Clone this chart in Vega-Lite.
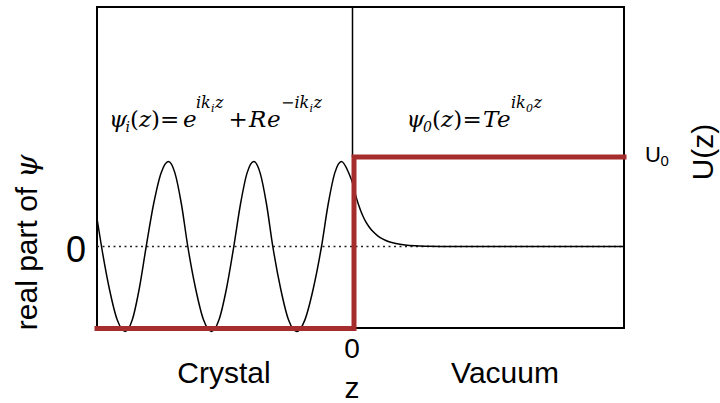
{
  "$schema": "https://vega.github.io/schema/vega-lite/v6.json",
  "width": 527,
  "height": 321,
  "autosize": {"type": "none"},
  "padding": {"left": 97, "top": 7, "right": 96, "bottom": 75},
  "background": "white",
  "config": {"view": {"stroke": "black", "strokeWidth": 2}},
  "layer": [
    {
      "data": {"values": [{"z": -255.5, "v": 0}, {"z": 271.5, "v": 0}]},
      "mark": {"type": "line", "color": "#222222", "strokeWidth": 1.5, "strokeDash": [2, 3.5], "clip": false},
      "encoding": {
        "x": {"field": "z", "type": "quantitative", "scale": {"domain": [-255.5, 271.5], "nice": false, "zero": false}, "axis": null},
        "y": {"field": "v", "type": "quantitative", "scale": {"domain": [-81.5, 239.5], "nice": false, "zero": false}, "axis": null}
      }
    },
    {
      "data": {"values": [
        {"z": -255.5, "psi": 28}, {"z": -251, "psi": 0}, {"z": -243.1, "psi": -42.5}, {"z": -235.2, "psi": -73.6},
        {"z": -227.3, "psi": -85}, {"z": -220.3, "psi": -73.6}, {"z": -213.3, "psi": -42.5}, {"z": -206.3, "psi": 0},
        {"z": -198.9, "psi": 42.5}, {"z": -191.4, "psi": 73.6}, {"z": -184, "psi": 85}, {"z": -177.6, "psi": 73.6},
        {"z": -171.1, "psi": 42.5}, {"z": -164.7, "psi": 0}, {"z": -156.8, "psi": -42.5}, {"z": -148.9, "psi": -73.6},
        {"z": -141, "psi": -85}, {"z": -133.6, "psi": -73.6}, {"z": -126.1, "psi": -42.5}, {"z": -118.7, "psi": 0},
        {"z": -112, "psi": 42.5}, {"z": -105.4, "psi": 73.6}, {"z": -98.7, "psi": 85}, {"z": -92.4, "psi": 73.6},
        {"z": -86, "psi": 42.5}, {"z": -79.7, "psi": 0}, {"z": -71.8, "psi": -42.5}, {"z": -63.9, "psi": -73.6},
        {"z": -56, "psi": -85}, {"z": -47.7, "psi": -73.6}, {"z": -39.3, "psi": -42.5}, {"z": -31, "psi": 0},
        {"z": -24.3, "psi": 42.5}, {"z": -17.7, "psi": 73.6}, {"z": -11, "psi": 85}, {"z": -3.8, "psi": 73.6},
        {"z": 0.5, "psi": 62}, {"z": 2.5, "psi": 53.9}, {"z": 4.5, "psi": 46.6}, {"z": 6.5, "psi": 40.4},
        {"z": 8.5, "psi": 35}, {"z": 10.5, "psi": 30.3}, {"z": 13.5, "psi": 24.4}, {"z": 16.5, "psi": 19.8},
        {"z": 20.5, "psi": 14.9}, {"z": 25.5, "psi": 10.4}, {"z": 30.5, "psi": 7.3}, {"z": 36.5, "psi": 4.7},
        {"z": 43.5, "psi": 2.9}, {"z": 52.5, "psi": 1.5}, {"z": 62.5, "psi": 0.7}, {"z": 75.5, "psi": 0.3},
        {"z": 90.5, "psi": 0.1}, {"z": 110, "psi": 0}, {"z": 271.5, "psi": 0}
      ]},
      "mark": {"type": "line", "color": "black", "strokeWidth": 1.5, "interpolate": "monotone", "clip": false},
      "encoding": {
        "x": {"field": "z", "type": "quantitative", "scale": {"domain": [-255.5, 271.5], "nice": false, "zero": false}, "axis": null},
        "y": {"field": "psi", "type": "quantitative", "scale": {"domain": [-81.5, 239.5], "nice": false, "zero": false}, "axis": null}
      }
    },
    {
      "data": {"values": [{"z": 0, "y1": 89.5, "y2": 239.5}]},
      "mark": {"type": "rule", "color": "black", "strokeWidth": 1.5},
      "encoding": {
        "x": {"field": "z", "type": "quantitative", "scale": {"domain": [-255.5, 271.5], "nice": false, "zero": false}, "axis": null},
        "y": {"field": "y1", "type": "quantitative", "scale": {"domain": [-81.5, 239.5], "nice": false, "zero": false}, "axis": null},
        "y2": {"field": "y2"}
      }
    },
    {
      "data": {"values": [
        {"i": 0, "z": -255.5, "u": -82}, {"i": 1, "z": 1.5, "u": -82}, {"i": 2, "z": 1.5, "u": 89.5}, {"i": 3, "z": 271.5, "u": 89.5}
      ]},
      "mark": {"type": "line", "color": "#a52d2d", "strokeWidth": 5, "strokeJoin": "miter", "strokeCap": "square", "clip": false},
      "encoding": {
        "x": {"field": "z", "type": "quantitative", "scale": {"domain": [-255.5, 271.5], "nice": false, "zero": false}, "axis": null},
        "y": {"field": "u", "type": "quantitative", "scale": {"domain": [-81.5, 239.5], "nice": false, "zero": false}, "axis": null},
        "order": {"field": "i"}
      }
    },
    {
      "data": {"values": [
        {"x": -243.5, "y": 119.5, "t": "ψ"}, {"x": -213.5, "y": 119.5, "t": "z"}, {"x": -169.5, "y": 119.5, "t": "e"},
        {"x": -103.5, "y": 119.5, "t": "R"}, {"x": -85.5, "y": 119.5, "t": "e"},
        {"x": 54, "y": 119.5, "t": "ψ"}, {"x": 88.5, "y": 119.5, "t": "z"}, {"x": 130.5, "y": 119.5, "t": "T"}, {"x": 144.5, "y": 119.5, "t": "e"}
      ]},
      "mark": {"type": "text", "font": "DejaVu Serif", "fontStyle": "italic", "fontSize": 23, "align": "left", "baseline": "alphabetic", "color": "black"},
      "encoding": {
        "x": {"field": "x", "type": "quantitative", "scale": {"domain": [-255.5, 271.5], "nice": false, "zero": false}, "axis": null},
        "y": {"field": "y", "type": "quantitative", "scale": {"domain": [-81.5, 239.5], "nice": false, "zero": false}, "axis": null},
        "text": {"field": "t"}
      }
    },
    {
      "data": {"values": [
        {"x": -222.5, "y": 119.5, "t": "("}, {"x": -201.5, "y": 119.5, "t": ")"}, {"x": -192.5, "y": 119.5, "t": "="},
        {"x": -124, "y": 119.5, "t": "+"},
        {"x": 79.5, "y": 119.5, "t": "("}, {"x": 100.8, "y": 119.5, "t": ")"}, {"x": 110, "y": 119.5, "t": "="}
      ]},
      "mark": {"type": "text", "font": "DejaVu Serif", "fontSize": 23, "align": "left", "baseline": "alphabetic", "color": "black"},
      "encoding": {
        "x": {"field": "x", "type": "quantitative", "scale": {"domain": [-255.5, 271.5], "nice": false, "zero": false}, "axis": null},
        "y": {"field": "y", "type": "quantitative", "scale": {"domain": [-81.5, 239.5], "nice": false, "zero": false}, "axis": null},
        "text": {"field": "t"}
      }
    },
    {
      "data": {"values": [
        {"x": -156.5, "y": 138.5, "t": "ik"}, {"x": -137.5, "y": 138.5, "t": "z"},
        {"x": -71.5, "y": 138.5, "t": "−ik"}, {"x": -39, "y": 138.5, "t": "z"},
        {"x": 158.5, "y": 138.5, "t": "ik"}, {"x": 181, "y": 138.5, "t": "z"}
      ]},
      "mark": {"type": "text", "font": "DejaVu Serif", "fontStyle": "italic", "fontSize": 16, "align": "left", "baseline": "alphabetic", "color": "black"},
      "encoding": {
        "x": {"field": "x", "type": "quantitative", "scale": {"domain": [-255.5, 271.5], "nice": false, "zero": false}, "axis": null},
        "y": {"field": "y", "type": "quantitative", "scale": {"domain": [-81.5, 239.5], "nice": false, "zero": false}, "axis": null},
        "text": {"field": "t"}
      }
    },
    {
      "data": {"values": [
        {"x": -227, "y": 114.5, "t": "i"}, {"x": 70.5, "y": 114.5, "t": "0"}
      ]},
      "mark": {"type": "text", "font": "DejaVu Serif", "fontStyle": "italic", "fontSize": 14, "align": "left", "baseline": "alphabetic", "color": "black"},
      "encoding": {
        "x": {"field": "x", "type": "quantitative", "scale": {"domain": [-255.5, 271.5], "nice": false, "zero": false}, "axis": null},
        "y": {"field": "y", "type": "quantitative", "scale": {"domain": [-81.5, 239.5], "nice": false, "zero": false}, "axis": null},
        "text": {"field": "t"}
      }
    },
    {
      "data": {"values": [
        {"x": -141.5, "y": 134.5, "t": "i"}, {"x": -43, "y": 134.5, "t": "i"}, {"x": 173.5, "y": 134.5, "t": "0"}
      ]},
      "mark": {"type": "text", "font": "DejaVu Serif", "fontStyle": "italic", "fontSize": 11, "align": "left", "baseline": "alphabetic", "color": "black"},
      "encoding": {
        "x": {"field": "x", "type": "quantitative", "scale": {"domain": [-255.5, 271.5], "nice": false, "zero": false}, "axis": null},
        "y": {"field": "y", "type": "quantitative", "scale": {"domain": [-81.5, 239.5], "nice": false, "zero": false}, "axis": null},
        "text": {"field": "t"}
      }
    },
    {
      "data": {"values": [
        {"x": -128.5, "y": -136.5, "t": "Crystal"}, {"x": 152.5, "y": -136.5, "t": "Vacuum"},
        {"x": -0.5, "y": -151.5, "t": "z"}
      ]},
      "mark": {"type": "text", "font": "Liberation Sans", "fontSize": 30, "align": "center", "baseline": "alphabetic", "color": "black"},
      "encoding": {
        "x": {"field": "x", "type": "quantitative", "scale": {"domain": [-255.5, 271.5], "nice": false, "zero": false}, "axis": null},
        "y": {"field": "y", "type": "quantitative", "scale": {"domain": [-81.5, 239.5], "nice": false, "zero": false}, "axis": null},
        "text": {"field": "t"}
      }
    },
    {
      "data": {"values": [{"x": -0.5, "y": -111.5, "t": "0"}]},
      "mark": {"type": "text", "font": "Liberation Sans", "fontSize": 28, "align": "center", "baseline": "alphabetic", "color": "black"},
      "encoding": {
        "x": {"field": "x", "type": "quantitative", "scale": {"domain": [-255.5, 271.5], "nice": false, "zero": false}, "axis": null},
        "y": {"field": "y", "type": "quantitative", "scale": {"domain": [-81.5, 239.5], "nice": false, "zero": false}, "axis": null},
        "text": {"field": "t"}
      }
    },
    {
      "data": {"values": [{"x": -276.5, "y": -15.5, "t": "0"}]},
      "mark": {"type": "text", "font": "Liberation Sans", "fontSize": 36, "align": "center", "baseline": "alphabetic", "color": "black"},
      "encoding": {
        "x": {"field": "x", "type": "quantitative", "scale": {"domain": [-255.5, 271.5], "nice": false, "zero": false}, "axis": null},
        "y": {"field": "y", "type": "quantitative", "scale": {"domain": [-81.5, 239.5], "nice": false, "zero": false}, "axis": null},
        "text": {"field": "t"}
      }
    },
    {
      "data": {"values": [{"x": 292.5, "y": 84.5, "t": "U"}]},
      "mark": {"type": "text", "font": "Liberation Sans", "fontSize": 22, "align": "left", "baseline": "alphabetic", "color": "black"},
      "encoding": {
        "x": {"field": "x", "type": "quantitative", "scale": {"domain": [-255.5, 271.5], "nice": false, "zero": false}, "axis": null},
        "y": {"field": "y", "type": "quantitative", "scale": {"domain": [-81.5, 239.5], "nice": false, "zero": false}, "axis": null},
        "text": {"field": "t"}
      }
    },
    {
      "data": {"values": [{"x": 308, "y": 80.5, "t": "0"}]},
      "mark": {"type": "text", "font": "Liberation Sans", "fontSize": 15, "align": "left", "baseline": "alphabetic", "color": "black"},
      "encoding": {
        "x": {"field": "x", "type": "quantitative", "scale": {"domain": [-255.5, 271.5], "nice": false, "zero": false}, "axis": null},
        "y": {"field": "y", "type": "quantitative", "scale": {"domain": [-81.5, 239.5], "nice": false, "zero": false}, "axis": null},
        "text": {"field": "t"}
      }
    },
    {
      "data": {"values": [{"x": 360.5, "y": 94.5, "t": "U(z)"}]},
      "mark": {"type": "text", "font": "Liberation Sans", "fontSize": 30, "angle": 270, "align": "center", "baseline": "alphabetic", "color": "black"},
      "encoding": {
        "x": {"field": "x", "type": "quantitative", "scale": {"domain": [-255.5, 271.5], "nice": false, "zero": false}, "axis": null},
        "y": {"field": "y", "type": "quantitative", "scale": {"domain": [-81.5, 239.5], "nice": false, "zero": false}, "axis": null},
        "text": {"field": "t"}
      }
    },
    {
      "data": {"values": [{"x": -315.5, "y": -12, "t": "real part of"}]},
      "mark": {"type": "text", "font": "Liberation Sans", "fontSize": 30, "angle": 270, "align": "center", "baseline": "alphabetic", "color": "black"},
      "encoding": {
        "x": {"field": "x", "type": "quantitative", "scale": {"domain": [-255.5, 271.5], "nice": false, "zero": false}, "axis": null},
        "y": {"field": "y", "type": "quantitative", "scale": {"domain": [-81.5, 239.5], "nice": false, "zero": false}, "axis": null},
        "text": {"field": "t"}
      }
    },
    {
      "data": {"values": [{"x": -315.5, "y": 68.5, "t": "ψ"}]},
      "mark": {"type": "text", "font": "DejaVu Serif", "fontStyle": "italic", "fontSize": 30, "angle": 270, "align": "left", "baseline": "alphabetic", "color": "black"},
      "encoding": {
        "x": {"field": "x", "type": "quantitative", "scale": {"domain": [-255.5, 271.5], "nice": false, "zero": false}, "axis": null},
        "y": {"field": "y", "type": "quantitative", "scale": {"domain": [-81.5, 239.5], "nice": false, "zero": false}, "axis": null},
        "text": {"field": "t"}
      }
    }
  ]
}
